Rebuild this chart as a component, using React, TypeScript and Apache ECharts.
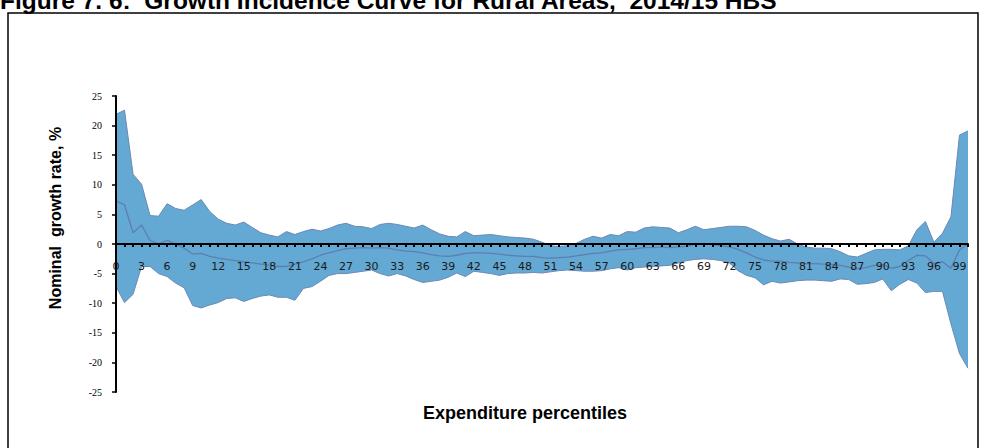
import React, { useEffect, useRef } from "react";
import * as echarts from "echarts";

const percentiles: string[] = Array.from({ length: 101 }, (_, i) => String(i));

const upperBound: number[] = [
  21.9, 22.6, 11.8, 10.1, 4.8, 4.7, 6.8, 6.0, 5.7, 6.6,
  7.5, 5.5, 4.2, 3.5, 3.2, 3.7, 2.8, 1.9, 1.5, 1.2,
  2.1, 1.6, 2.1, 2.5, 2.2, 2.6, 3.2, 3.5, 3.0, 2.9,
  2.6, 3.3, 3.5, 3.3, 3.0, 2.7, 3.2, 2.4, 1.7, 1.3,
  1.2, 2.1, 1.4, 1.5, 1.6, 1.4, 1.2, 1.1, 1.0, 0.8,
  0.3, -0.3, -0.4, -0.3, 0.1, 0.8, 1.3, 1.0, 1.6, 1.4,
  2.1, 2.0, 2.7, 2.9, 2.8, 2.7, 1.9, 2.4, 3.0, 2.4,
  2.6, 2.8, 3.0, 3.0, 2.9, 2.3, 1.5, 0.9, 0.5, 0.8,
  0.0, -0.5, -0.7, -0.7, -0.8, -1.3, -2.0, -2.2, -1.6, -1.0,
  -0.9, -0.9, -1.0, -0.3, 2.4, 3.8, 0.3, 1.8, 4.6, 18.4,
  19.1,
];

const growthRate: number[] = [
  7.3, 6.6, 1.9, 3.2, 0.6, 0.0, 0.6, 0.0, -0.7, -1.7,
  -1.6, -2.1, -2.4, -2.6, -2.8, -3.0, -3.2, -3.4, -3.6, -3.8,
  -3.8, -3.4, -3.0, -2.5, -1.9, -1.5, -1.1, -0.8, -0.7, -0.6,
  -0.7, -0.6, -0.7, -1.0, -1.2, -1.3, -1.5, -1.8, -2.0, -2.1,
  -1.9, -1.6, -1.5, -1.5, -1.6, -1.7, -1.9, -2.0, -2.1, -2.1,
  -2.3, -2.4, -2.3, -2.2, -2.0, -1.8, -1.6, -1.5, -1.2, -1.0,
  -0.9, -0.8, -0.6, -0.6, -0.5, -0.6, -0.5, -0.4, 0.0, 0.1,
  -0.1, -0.3, -0.5, -0.9, -1.5, -2.2, -2.7, -2.9, -2.9, -3.1,
  -3.2, -3.3, -3.3, -3.4, -3.5, -3.6, -3.9, -4.2, -4.0, -3.6,
  -3.5, -4.1, -3.8, -2.8, -1.9, -2.0, -3.3, -3.0, -4.1, -1.0,
  0.1,
];

const lowerBound: number[] = [
  -7.2, -9.9, -8.5, -3.8, -3.8, -5.0, -5.5, -6.6, -7.4, -10.4,
  -10.8, -10.3, -9.9, -9.2, -9.1, -9.7, -9.2, -8.8, -8.6, -9.0,
  -9.0, -9.5, -7.5, -7.2, -6.3, -5.3, -5.0, -5.0, -4.8, -4.6,
  -4.4, -5.0, -5.4, -5.0, -5.4, -6.0, -6.5, -6.3, -6.1, -5.6,
  -4.9, -5.5, -4.6, -4.8, -5.0, -5.3, -5.0, -4.9, -4.9, -4.8,
  -4.9, -4.7, -4.5, -4.4, -4.5, -4.6, -4.6, -4.5, -4.2, -4.0,
  -4.4, -4.0, -3.9, -3.8, -3.7, -3.6, -3.2, -2.8, -2.6, -2.5,
  -2.6, -2.8, -3.2, -4.5, -5.3, -5.7, -6.9, -6.3, -6.6, -6.4,
  -6.2, -6.1, -6.1, -6.2, -6.3, -5.9, -6.0, -6.8, -6.7, -6.5,
  -5.9, -7.9, -6.8, -6.0, -6.6, -8.2, -8.0, -8.0, -13.5, -18.5,
  -21.0,
];

const yTicks = { min: -25, max: 25, interval: 5 };

const TITLE = "Figure 7. 6:  Growth Incidence Curve for Rural Areas,  2014/15 HBS";
const Y_TITLE = "Nominal  growth rate, %";
const X_TITLE = "Expenditure percentiles";

export default function App() {
  const ref = useRef<HTMLDivElement>(null);

  useEffect(() => {
    if (!ref.current) return;
    const chart = echarts.init(ref.current, null, { renderer: "svg" });
    const bandWidth = upperBound.map((u, i) => +(u - lowerBound[i]).toFixed(2));
    const fill = "#63a9d3";
    const edge = "#6c88b6";

    chart.setOption({
      animation: false,
      backgroundColor: "#ffffff",
      grid: { left: 116, right: 14, top: 96, bottom: 56, containLabel: false },
      xAxis: {
        type: "category",
        data: percentiles,
        boundaryGap: false,
        z: 10,
        axisLine: { onZero: true, lineStyle: { color: "#000", width: 2 } },
        axisTick: { show: true, interval: 0, length: 3, inside: false, lineStyle: { color: "#000", width: 2 } },
        axisLabel: {
          interval: 2,
          margin: -131,
          fontFamily: "DejaVu Sans",
          fontSize: 11,
          color: "#1a1a1a",
        },
        splitLine: { show: false },
      },
      yAxis: {
        type: "value",
        min: yTicks.min,
        max: yTicks.max,
        interval: yTicks.interval,
        z: 10,
        axisLine: { show: true, onZero: false, lineStyle: { color: "#000", width: 2 } },
        axisTick: { show: true, length: 4, lineStyle: { color: "#000", width: 1.5 } },
        axisLabel: {
          margin: 14,
          fontFamily: "Liberation Serif",
          fontSize: 10,
          color: "#000",
        },
        splitLine: { show: false },
      },
      graphic: [
        {
          type: "rect",
          shape: { x: 8, y: 13, width: 970, height: 460 },
          style: { fill: "none", stroke: "#000", lineWidth: 1.5 },
          silent: true,
        },
        {
          type: "text",
          x: 0,
          y: 13,
          style: {
            text: TITLE,
            fontFamily: "Liberation Sans",
            fontWeight: "bold",
            fontSize: 24.5,
            fill: "#000",
            verticalAlign: "bottom",
            align: "left",
          },
        },
        {
          type: "text",
          x: 55,
          y: 218,
          rotation: Math.PI / 2,
          style: {
            text: Y_TITLE,
            fontFamily: "Liberation Sans",
            fontWeight: "bold",
            fontSize: 16,
            fill: "#000",
            align: "center",
            verticalAlign: "middle",
          },
        },
        {
          type: "text",
          x: 525,
          y: 413,
          style: {
            text: X_TITLE,
            fontFamily: "Liberation Sans",
            fontWeight: "bold",
            fontSize: 18,
            fill: "#000",
            align: "center",
            verticalAlign: "middle",
          },
        },
      ],
      series: [
        {
          name: "base",
          type: "line",
          data: lowerBound,
          stack: "band",
          stackStrategy: "all",
          symbol: "none",
          lineStyle: { opacity: 0 },
          silent: true,
          z: 1,
        },
        {
          name: "band",
          type: "line",
          data: bandWidth,
          stack: "band",
          stackStrategy: "all",
          symbol: "none",
          lineStyle: { opacity: 0 },
          areaStyle: { color: fill, opacity: 1 },
          silent: true,
          z: 1,
        },
        {
          name: "Upper bound",
          type: "line",
          data: upperBound,
          symbol: "none",
          lineStyle: { color: edge, width: 1 },
          z: 2,
        },
        {
          name: "Lower bound",
          type: "line",
          data: lowerBound,
          symbol: "none",
          lineStyle: { color: edge, width: 1 },
          z: 2,
        },
        {
          name: "Growth rate",
          type: "line",
          data: growthRate,
          symbol: "none",
          lineStyle: { color: "#5d7fb0", width: 1.3 },
          z: 3,
        },
      ],
    });
    return () => chart.dispose();
  }, []);

  return (
    <div
      ref={ref}
      style={{ position: "fixed", left: 0, top: 0, width: 982, height: 448, background: "#fff" }}
    />
  );
}
